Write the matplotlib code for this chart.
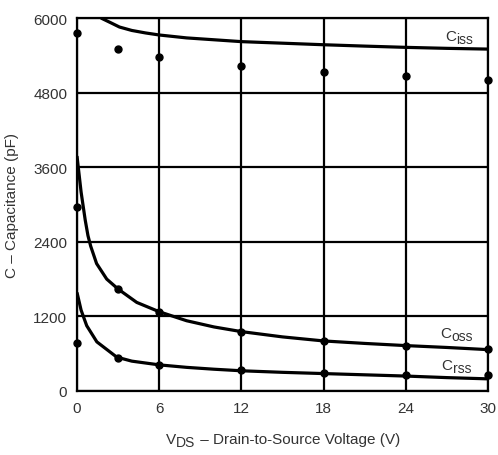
import matplotlib
matplotlib.use("Agg")

import matplotlib.pyplot as plt
from matplotlib.transforms import IdentityTransform

# Curves (V, pF)
ciss_x = [1.75, 2.5, 3.1, 4, 5, 6, 8, 10, 12, 15, 18, 21, 24, 27, 30]
ciss_y = [6000, 5920, 5855, 5800, 5760, 5727, 5680, 5650, 5620, 5595, 5570, 5548, 5528, 5512, 5500]

coss_x = [0, 0.3, 0.6, 0.8, 1.0, 1.43, 2.17, 3, 4.36, 6, 8, 10, 12, 15, 18, 21, 24, 27, 30]
coss_y = [3780, 3200, 2750, 2500, 2330, 2050, 1800, 1640, 1425, 1275, 1130, 1030, 955, 870, 805, 765, 730, 700, 665]

crss_x = [0, 0.3, 0.71, 1.45, 2.9, 4, 6, 8, 10, 12, 15, 18, 21, 24, 27, 30]
crss_y = [1585, 1300, 1050, 790, 545, 480, 420, 380, 350, 325, 300, 280, 260, 240, 215, 195]

# Measured points
dot_x = [0, 3, 6, 12, 18, 24, 30]
ciss_dots = [5760, 5500, 5370, 5230, 5130, 5070, 5000]
coss_dots = [2960, 1640, 1270, 954, 804, 730, 675]
crss_dots = [770, 525, 417, 340, 290, 265, 265]

x_ticks = [0, 6, 12, 18, 24, 30]
y_ticks = [0, 1200, 2400, 3600, 4800, 6000]

plt.rcParams["font.family"] = ["Liberation Sans", "DejaVu Sans"]
text_color = "#333333"
fs = 11

fig = plt.figure(figsize=(4.98, 4.56), dpi=100)
ax = fig.add_axes([0.1546, 0.1404, 0.8254, 0.8179])
renderer = fig.canvas.get_renderer()


def sub_text(x, y, parts, align="right"):
    # parts: list of (text, size, drop in px); drawn left to right in pixel coords
    items = []
    for s, size, drop in parts:
        t = fig.text(0, 0, s, fontsize=size, color=text_color, va="baseline",
                     ha="left", transform=IdentityTransform())
        w = t.get_window_extent(renderer).width
        items.append((t, w, drop))
    total = sum(w for _, w, _ in items)
    cur = x - total if align == "right" else (x - total / 2 if align == "center" else x)
    for t, w, drop in items:
        t.set_position((cur, y - drop))
        cur += w


for xs, ys in [(ciss_x, ciss_y), (coss_x, coss_y), (crss_x, crss_y)]:
    ax.plot(xs, ys, color="black", linewidth=2.3, solid_capstyle="butt", zorder=3)

for ys in [ciss_dots, coss_dots, crss_dots]:
    ax.plot(dot_x, ys, "o", color="black", markersize=5, clip_on=False, zorder=4)

ax.set_xlim(0, 30)
ax.set_ylim(0, 6000)
ax.set_xticks(x_ticks)
ax.set_yticks(y_ticks)
ax.grid(True, color="black", linewidth=1.6)
ax.set_axisbelow(True)
for s in ax.spines.values():
    s.set_linewidth(1.6)
ax.tick_params(length=0, pad=7, labelsize=fs, labelcolor=text_color)
ax.set_ylabel("C – Capacitance (pF)", fontsize=fs, color=text_color, labelpad=10)

# curve labels, pixel coordinates (origin bottom-left)
H = 456
sub_text(473, H - 41, [("C", fs, 0), ("iss", fs - 1, 3)])
sub_text(473, H - 338, [("C", fs, 0), ("oss", fs - 1, 3)])
sub_text(471, H - 370, [("C", fs, 0), ("rss", fs - 1, 3)])

# x label
sub_text(283, H - 444, [("V", fs, 0), ("DS", fs - 1, 3), (" – Drain-to-Source Voltage (V)", fs, 0)],
         align="center")

fig.savefig("out.png", dpi=100)
